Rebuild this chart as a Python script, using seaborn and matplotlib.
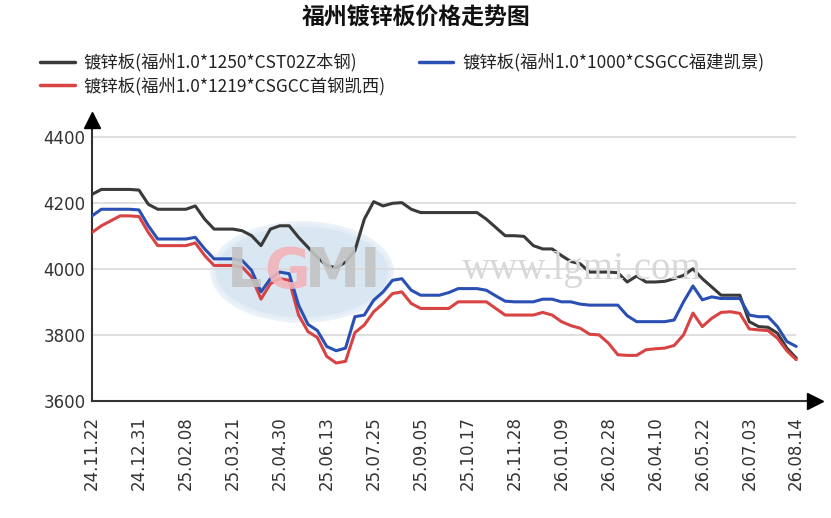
import numpy as np
import pandas as pd
import matplotlib
matplotlib.use("Agg")
import matplotlib.pyplot as plt
from matplotlib.patches import Ellipse
from matplotlib.lines import Line2D
import seaborn as sns

# ---------------- data ----------------
tick_labels = ["24.11.22", "24.12.31", "25.02.08", "25.03.21", "25.04.30", "25.06.13",
               "25.07.25", "25.09.05", "25.10.17", "25.11.28", "26.01.09", "26.02.28",
               "26.04.10", "26.05.22", "26.07.03", "26.08.14"]
points_per_tick = 5

series_names = ["镀锌板(福州1.0*1250*CST02Z本钢)",
                "镀锌板(福州1.0*1219*CSGCC首钢凯西)",
                "镀锌板(福州1.0*1000*CSGCC福建凯景)"]

black_vals = [4225, 4240, 4240, 4240, 4240, 4238, 4195, 4180, 4180, 4180,
              4180, 4190, 4150, 4120, 4120, 4120, 4115, 4100, 4070, 4120,
              4130, 4130, 4095, 4065, 4035, 4010, 4003, 4020, 4055, 4150,
              4203, 4190, 4198, 4200, 4180, 4170, 4170, 4170, 4170, 4170,
              4170, 4170, 4150, 4125, 4100, 4100, 4098, 4070, 4060, 4060,
              4040, 4022, 4015, 3990, 3990, 3990, 3988, 3960, 3978, 3960,
              3960, 3962, 3970, 3980, 4000, 3970, 3945, 3920, 3920, 3920,
              3840, 3825, 3823, 3805, 3760, 3730]

red_vals = [4110, 4130, 4145, 4160, 4160, 4158, 4110, 4070, 4070, 4070,
            4070, 4078, 4040, 4010, 4010, 4010, 4005, 3975, 3908, 3955,
            3970, 3965, 3860, 3810, 3792, 3735, 3715, 3720, 3807, 3830,
            3870, 3895, 3925, 3930, 3895, 3880, 3880, 3880, 3880, 3900,
            3900, 3900, 3900, 3880, 3860, 3860, 3860, 3860, 3868, 3860,
            3840, 3828, 3820, 3802, 3800, 3775, 3740, 3738, 3738, 3755,
            3758, 3760, 3768, 3800, 3866, 3825, 3850, 3868, 3870, 3865,
            3818, 3815, 3813, 3790, 3752, 3725]

blue_vals = [4160, 4180, 4180, 4180, 4180, 4178, 4130, 4090, 4090, 4090,
             4090, 4095, 4060, 4030, 4030, 4030, 4025, 3995, 3930, 3970,
             3990, 3985, 3890, 3832, 3813, 3765, 3752, 3760, 3855, 3860,
             3905, 3930, 3965, 3970, 3935, 3920, 3920, 3920, 3928, 3940,
             3940, 3940, 3935, 3918, 3902, 3900, 3900, 3900, 3908, 3908,
             3900, 3900, 3893, 3890, 3890, 3890, 3890, 3858, 3840, 3840,
             3840, 3840, 3845, 3900, 3948, 3906, 3915, 3910, 3910, 3910,
             3860, 3855, 3855, 3825, 3780, 3765]

y_ticks = [3600, 3800, 4000, 4200, 4400]
colors = ["#3a3a3a", "#d84343", "#2a50b4"]

# ---------------- build table ----------------
n = len(black_vals)
idx = np.arange(n)
df = pd.concat([
    pd.DataFrame({"idx": idx, "price": vals, "series": name})
    for name, vals in zip(series_names, [black_vals, red_vals, blue_vals])
], ignore_index=True)

sns.set_theme(style="white")
plt.rcParams["font.family"] = ["Noto Sans CJK SC", "DejaVu Sans"]
plt.rcParams["axes.unicode_minus"] = False

fig = plt.figure(figsize=(8.31, 5.18), dpi=100)
ax = fig.add_axes([92 / 831, (518 - 401) / 518, (815 - 92) / 831, (401 - 120) / 518])

# watermark (logo + site text)
ax.add_patch(Ellipse((302 / 831, 1 - 272 / 518), 178 / 831, 96 / 518,
                     transform=fig.transFigure, facecolor="#d3e3f2",
                     edgecolor="#e8eff7", lw=4, zorder=0.5, alpha=0.85))
wm_letters = [("L", 245, "#c3c3c3"), ("G", 287, "#f2b3b9"),
              ("M", 333, "#c3c3c3"), ("I", 370, "#c3c3c3")]
for ch, px, col in wm_letters:
    fig.text(px / 831, 1 - 272 / 518, ch, ha="center", va="center",
             fontsize=40, color=col, fontweight="bold",
             family=["DejaVu Sans"], zorder=0.6, alpha=0.9)
fig.text(582 / 831, 1 - 270 / 518, "www.lgmi.com", ha="center", va="center",
         fontsize=28, color="#d8d8d8", family=["Liberation Serif"], zorder=0.6)

last = n - 1
ax.hlines(y_ticks, 0, last, colors="#d9d9d9", lw=1.2, zorder=1)

sns.lineplot(data=df, x="idx", y="price", hue="series", palette=colors,
             hue_order=series_names, linewidth=2.2, ax=ax, zorder=3,
             legend=False)

ax.set_xlim(0, last + 2)
ax.set_ylim(3600, 4450)
ax.set_yticks(y_ticks)
ax.set_yticklabels([str(v) for v in y_ticks], family=["DejaVu Sans"],
                   fontsize=12, color="#333333")
xt = idx[::points_per_tick]
ax.set_xticks(xt)
ax.set_xticklabels(tick_labels, rotation=90, family=["DejaVu Sans"],
                   fontsize=12, color="#333333")
ax.set_xlabel("")
ax.set_ylabel("")
ax.tick_params(axis="x", direction="out", length=5, width=1, color="#bbbbbb", pad=6)
ax.tick_params(axis="y", direction="inout", length=7, width=1, color="#333333", pad=1)

for s in ["top", "right"]:
    ax.spines[s].set_visible(False)
for s in ["left", "bottom"]:
    ax.spines[s].set_color("#333333")
    ax.spines[s].set_linewidth(1.5)

# axis arrows
ax.plot([0], [1], marker="^", markersize=12, color="black",
        transform=ax.transAxes, clip_on=False, zorder=5)
ax.plot([1], [0], marker=">", markersize=12, color="black",
        transform=ax.transAxes, clip_on=False, zorder=5)

# title
fig.text(416 / 831, 1 - 18 / 518, "福州镀锌板价格走势图", ha="center", va="center",
         fontsize=16.5, fontweight="bold", color="#111111")

# legend
handles = [Line2D([0], [0], color=c, lw=2.5) for c in colors]
leg = fig.legend(handles, series_names, loc="upper left",
                 bbox_to_anchor=(40 / 831, 1 - 53 / 518), ncol=2,
                 frameon=False, fontsize=12.5, handlelength=2.0,
                 handletextpad=0.5, columnspacing=1.9, labelspacing=0.3,
                 borderaxespad=0, borderpad=0)
for t in leg.get_texts():
    t.set_color("#222222")

fig.savefig("out.png", dpi=100)
